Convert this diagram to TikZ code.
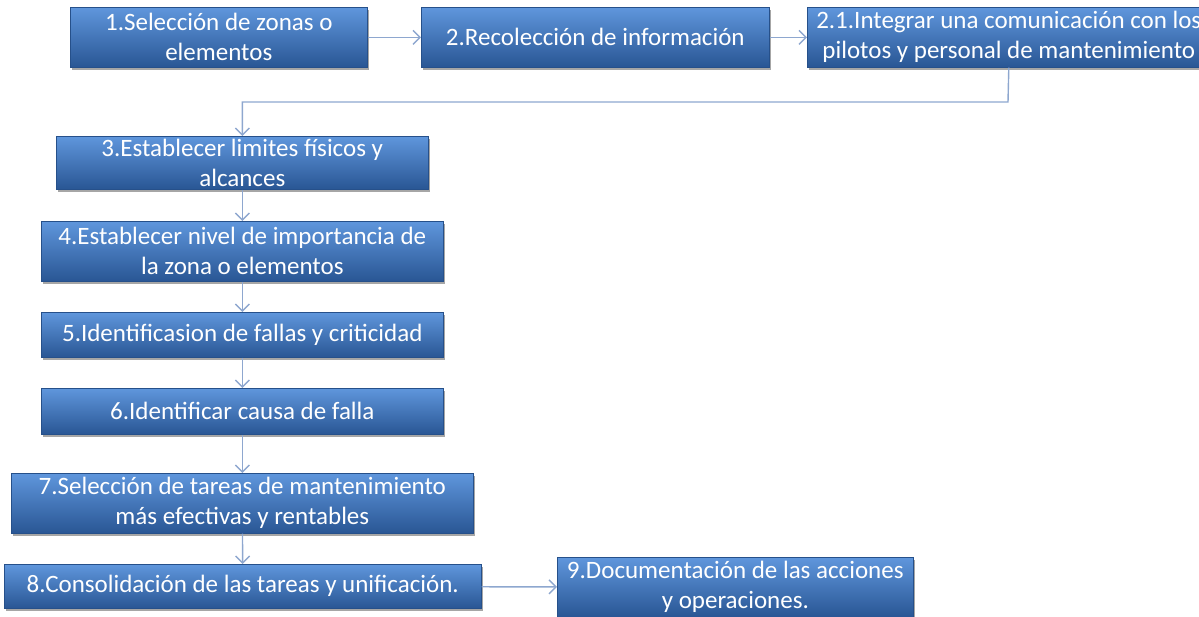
\documentclass[tikz,border=0pt]{standalone}
\usepackage{fontspec}
\setmainfont{Carlito}
\usepackage{tikz}
\usetikzlibrary{arrows.meta, positioning, shadows}
\definecolor{azulclaro}{HTML}{5F96DC}
\definecolor{azul}{HTML}{3770BD}
\definecolor{azuloscuro}{HTML}{295694}
\definecolor{borde}{HTML}{26508A}
\definecolor{lineagris}{HTML}{8EA7CF}
\tikzstyle{paso} = [draw=borde, line width=0.6pt, top color=azulclaro, middle color=azul, bottom color=azuloscuro, rectangle, anchor=north west, inner sep=0pt, align=center, text=white, font=\fontsize{25}{30}\selectfont, drop shadow={shadow xshift=2pt, shadow yshift=-3pt, opacity=0.35, fill=black}]
\tikzstyle{flecha} = [draw=lineagris, line width=1.4pt, -{Straight Barb[length=7pt,width=14pt]}]

\begin{document}
\begin{tikzpicture}[x=1pt, y=-1pt]
	\useasboundingbox (0,0) rectangle (1199,617);
	\node[paso, minimum width=297pt, minimum height=60pt] (b1) at (70,7) {1.Selección de zonas o\\elementos};
	\node[paso, minimum width=348pt, minimum height=60pt] (b2) at (421,7) {2.Recolección de información};
	\node[paso, minimum width=403pt, minimum height=60pt] (b21) at (807,7) {2.1.Integrar una comunicación con los\\pilotos y personal de mantenimiento};
	\node[paso, minimum width=372pt, minimum height=53pt] (b3) at (56,136) {3.Establecer limites físicos y\\alcances};
	\node[paso, minimum width=402pt, minimum height=60pt] (b4) at (41,221) {4.Establecer nivel de importancia de\\la zona o elementos};
	\node[paso, minimum width=402pt, minimum height=45pt] (b5) at (41,312) {5.Identificasion de fallas y criticidad};
	\node[paso, minimum width=402pt, minimum height=46pt] (b6) at (41,388) {6.Identificar causa de falla};
	\node[paso, minimum width=462pt, minimum height=60pt] (b7) at (11,473) {7.Selección de tareas de mantenimiento\\más efectivas y rentables};
	\node[paso, minimum width=477pt, minimum height=44pt] (b8) at (4,564) {8.Consolidación de las tareas y unificación.};
	\node[paso, minimum width=356pt, minimum height=60pt] (b9) at (557,557) {9.Documentación de las acciones\\y operaciones.};
	\coordinate (codo) at (1008,102);
	\draw[flecha] (b1) -- (b2);
	\draw[flecha] (b2) -- (b21);
	\draw[flecha] (b21.south) -- (codo) -| (b3.north);
	\draw[flecha] (b3) -- (b4);
	\draw[flecha] (b4) -- (b5);
	\draw[flecha] (b5) -- (b6);
	\draw[flecha] (b6) -- (b7);
	\draw[flecha] (b7) -- (b8);
	\draw[flecha] (b8) -- (b9);
\end{tikzpicture}
\end{document}
